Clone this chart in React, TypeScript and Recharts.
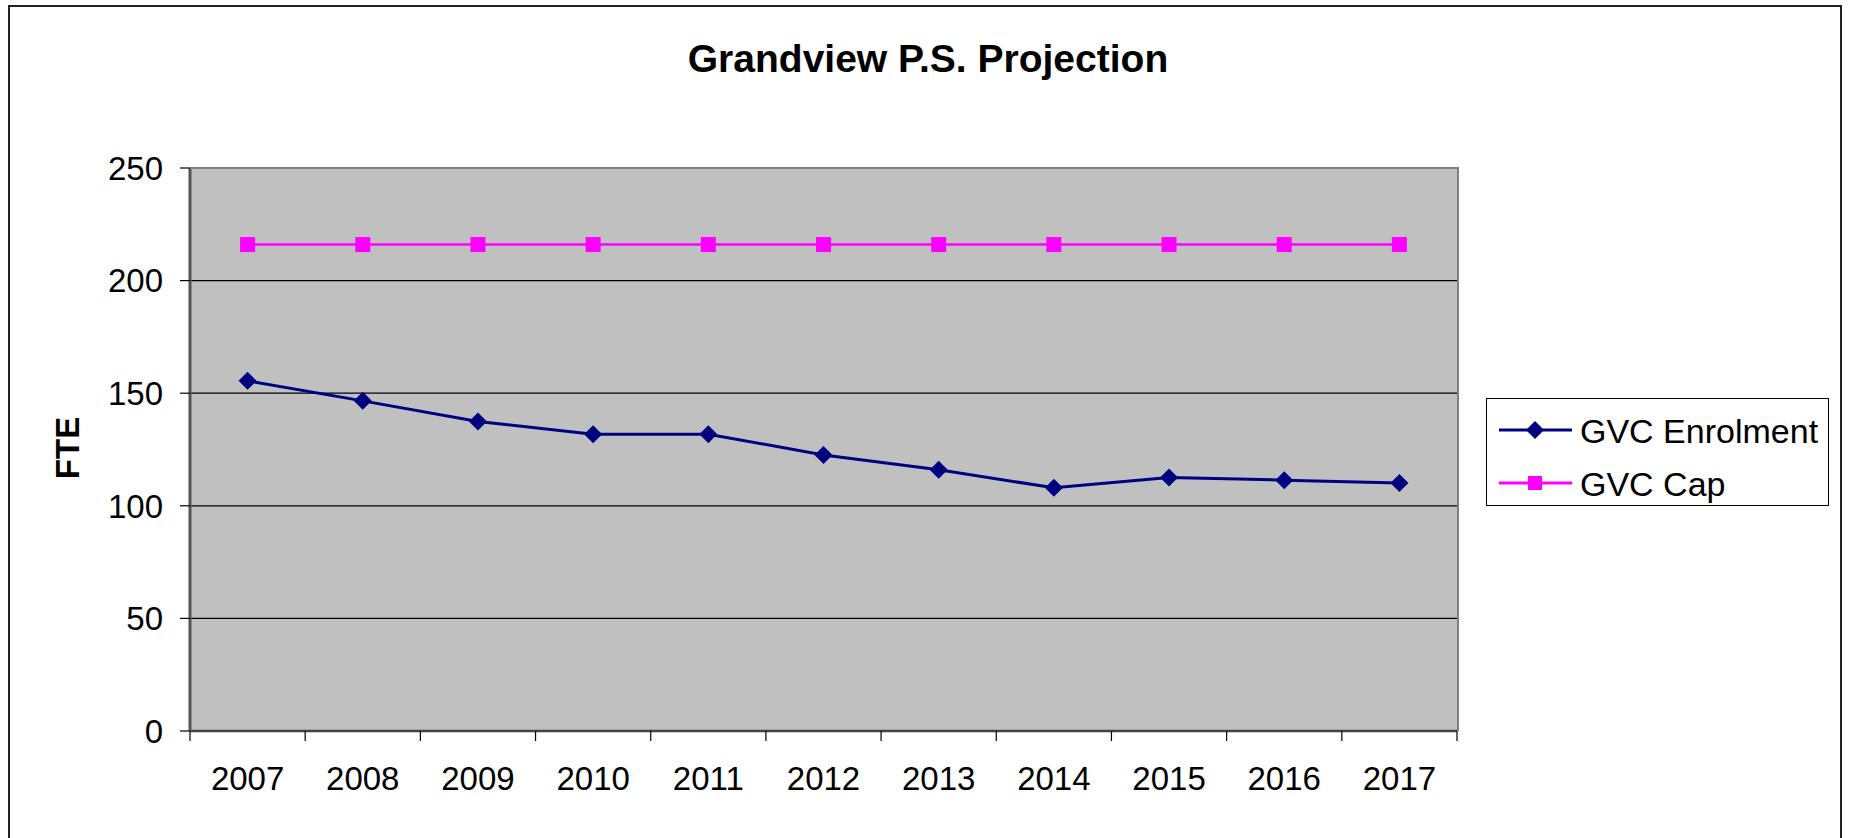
import React from "react";
import { CartesianGrid, Line, LineChart, XAxis, YAxis } from "recharts";

const years = ["2007", "2008", "2009", "2010", "2011", "2012", "2013", "2014", "2015", "2016", "2017"];
const enrolment = [155.5, 146.6, 137.4, 131.8, 131.8, 122.6, 116, 108, 112.6, 111.4, 110.1];
const capacity = [216, 216, 216, 216, 216, 216, 216, 216, 216, 216, 216];
const yTicks = [0, 50, 100, 150, 200, 250];
const xEdges = [0, 1, 2, 3, 4, 5, 6, 7, 8, 9, 10, 11];

const FONT = '"Liberation Sans", Arial, sans-serif';
const NAVY = "#000080";
const MAGENTA = "#ff00ff";

const chartData = years.map((year, i) => ({
  year,
  pos: i + 0.5,
  enrolment: enrolment[i],
  cap: capacity[i],
}));

// plot box: left 190, top 168, right 1457, bottom 731
const PLOT_W = 1457 - 190;
const BAND = PLOT_W / years.length;

const Diamond = (props: any) => {
  const { cx, cy, index } = props;
  if (cx == null || cy == null) return <g key={index} />;
  const r = 9;
  return (
    <path
      key={index}
      d={`M${cx},${cy - r} L${cx + r},${cy} L${cx},${cy + r} L${cx - r},${cy} Z`}
      fill={NAVY}
    />
  );
};

const Square = (props: any) => {
  const { cx, cy, index } = props;
  if (cx == null || cy == null) return <g key={index} />;
  const s = 15;
  return <rect key={index} x={cx - s / 2} y={cy - s / 2} width={s} height={s} fill={MAGENTA} />;
};

const YearTick = (props: any) => {
  const { x, y, payload } = props;
  const i = payload.value as number;
  if (i >= years.length) return <g />;
  return (
    <text x={x + BAND / 2} y={y + 47} textAnchor="middle" fontSize={33} fontFamily={FONT} fill="#000">
      {years[i]}
    </text>
  );
};

const legendItems = [
  { label: "GVC Enrolment", color: NAVY, shape: "diamond", top: 31 },
  { label: "GVC Cap", color: MAGENTA, shape: "square", top: 84 },
];

const LegendBox = () => (
  <div
    style={{
      position: "absolute",
      left: 1486,
      top: 398,
      width: 343,
      height: 108,
      border: "1px solid #000",
      boxSizing: "border-box",
      background: "#fff",
      fontFamily: FONT,
      fontSize: 34,
      color: "#000",
    }}
  >
    {legendItems.map((item) => (
      <div key={item.label} style={{ position: "absolute", left: 0, top: item.top - 20, height: 40, width: 341 }}>
        <svg width={90} height={40} style={{ position: "absolute", left: 0, top: 0 }}>
          <line x1={12} x2={85} y1={20} y2={20} stroke={item.color} strokeWidth={3} />
          {item.shape === "diamond" ? (
            <path d="M48,11 L57,20 L48,29 L39,20 Z" fill={item.color} />
          ) : (
            <rect x={41} y={13} width={14} height={14} fill={item.color} />
          )}
        </svg>
        <span style={{ position: "absolute", left: 93, top: 1, lineHeight: "40px", whiteSpace: "nowrap" }}>
          {item.label}
        </span>
      </div>
    ))}
  </div>
);

export default function App() {
  return (
    <div
      style={{
        position: "absolute",
        left: 0,
        top: 0,
        width: 1849,
        height: 838,
        background: "#fff",
        overflow: "hidden",
        fontFamily: FONT,
      }}
    >
      {/* outer chart frame */}
      <div
        style={{
          position: "absolute",
          left: 8,
          top: 5,
          width: 1834,
          height: 900,
          border: "2px solid #222",
          boxSizing: "border-box",
        }}
      />
      <div
        style={{
          position: "absolute",
          left: 0,
          width: 1856,
          top: 37,
          textAlign: "center",
          fontSize: 39,
          fontWeight: 700,
          color: "#000",
        }}
      >
        Grandview P.S. Projection
      </div>
      <div
        style={{
          position: "absolute",
          left: 68,
          top: 448,
          transform: "translate(-50%, -50%) rotate(-90deg)",
          fontSize: 33,
          fontWeight: 700,
          color: "#000",
        }}
      >
        FTE
      </div>

      <div style={{ position: "absolute", left: 0, top: 0 }}>
        <LineChart
          width={1849}
          height={838}
          data={chartData}
          margin={{ top: 168, right: 1849 - 1457, bottom: 838 - 731 - 70, left: 90 }}
        >
          <CartesianGrid
            vertical={false}
            horizontal
            fill="#c0c0c0"
            fillOpacity={1}
            stroke="#000"
            strokeWidth={1.2}
            horizontalValues={[50, 100, 150, 200]}
          />
          <XAxis
            type="number"
            dataKey="pos"
            domain={[0, 11]}
            ticks={xEdges}
            interval={0}
            height={70}
            tickSize={10}
            tickLine={{ stroke: "#000", strokeWidth: 1.2 }}
            axisLine={{ stroke: "#444", strokeWidth: 2.5 }}
            tick={<YearTick />}
            allowDecimals={false}
          />
          <YAxis
            type="number"
            domain={[0, 250]}
            ticks={yTicks}
            interval={0}
            width={100}
            tickSize={10}
            tickMargin={17}
            tickLine={{ stroke: "#000", strokeWidth: 1.2 }}
            axisLine={{ stroke: "#555", strokeWidth: 3 }}
            tick={{ fontSize: 33, fill: "#000", fontFamily: FONT }}
          />
          <Line
            type="linear"
            dataKey="cap"
            stroke={MAGENTA}
            strokeWidth={2.5}
            dot={Square}
            activeDot={false}
            isAnimationActive={false}
          />
          <Line
            type="linear"
            dataKey="enrolment"
            stroke={NAVY}
            strokeWidth={3}
            dot={Diamond}
            activeDot={false}
            isAnimationActive={false}
          />
        </LineChart>
      </div>

      {/* plot box top and right borders */}
      <div
        style={{
          position: "absolute",
          left: 190,
          top: 167,
          width: 1459 - 190,
          height: 731 - 167,
          borderTop: "2px solid #808080",
          borderRight: "2px solid #808080",
          boxSizing: "border-box",
          pointerEvents: "none",
        }}
      />

      <LegendBox />
    </div>
  );
}
